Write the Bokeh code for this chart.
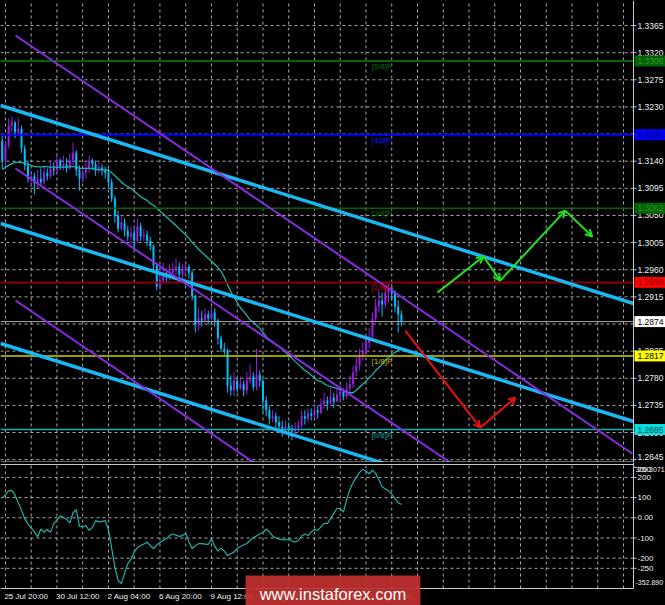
from bokeh.plotting import figure
from bokeh.layouts import column
from bokeh.models import (ColumnDataSource, Arrow, OpenHead, Range1d, GlobalInlineStyleSheet)
from bokeh.core.properties import value
from bokeh.embed import file_html
from bokeh.resources import INLINE

# ---------------- data (GBPUSD H4) ----------------
first_open = 1.3174
close_px = [
    1.3141, 1.3166, 1.3199, 1.3204, 1.3188, 1.3194, 1.3161, 1.3133, 1.3111, 1.3115,
    1.3103, 1.3111, 1.3105, 1.3121, 1.3115, 1.3128, 1.3125, 1.3141, 1.3131, 1.3135,
    1.3128, 1.3141, 1.3154, 1.3125, 1.3111, 1.3121, 1.3128, 1.3141, 1.3135, 1.3125,
    1.3130, 1.3125, 1.3121, 1.3105, 1.3078, 1.3050, 1.3028, 1.3038, 1.3025, 1.3015,
    1.3020, 1.3008, 1.3032, 1.3015, 1.3018, 1.3008, 1.2999, 1.2967, 1.2932, 1.2942,
    1.2955, 1.2947, 1.2955, 1.2962, 1.2965, 1.2952, 1.2959, 1.2965, 1.2955, 1.2916,
    1.2868, 1.2879, 1.2876, 1.2886, 1.2879, 1.2889, 1.2876, 1.2846, 1.2829, 1.2826,
    1.2768, 1.2760, 1.2776, 1.2763, 1.2770, 1.2760, 1.2776, 1.2783, 1.2766, 1.2786,
    1.2776, 1.2743, 1.2727, 1.2713, 1.2717, 1.2707, 1.2700, 1.2693, 1.2700, 1.2697,
    1.2692, 1.2697, 1.2702, 1.2717, 1.2713, 1.2722, 1.2718, 1.2727, 1.2723, 1.2737,
    1.2743, 1.2738, 1.2748, 1.2741, 1.2753, 1.2758, 1.2750, 1.2763, 1.2770, 1.2790,
    1.2801, 1.2816, 1.2826, 1.2839, 1.2849, 1.2879, 1.2899, 1.2909, 1.2902, 1.2922,
    1.2929, 1.2921, 1.2899, 1.2886, 1.2874]
high_px = [
    1.3183, 1.3174, 1.3211, 1.3214, 1.3207, 1.3211, 1.3199, 1.3166, 1.3141, 1.3125,
    1.3121, 1.3125, 1.3128, 1.3133, 1.3128, 1.3141, 1.3138, 1.3154, 1.3145, 1.3149,
    1.3145, 1.3153, 1.3171, 1.3158, 1.3133, 1.3128, 1.3138, 1.3149, 1.3145, 1.3141,
    1.3138, 1.3135, 1.3131, 1.3128, 1.3111, 1.3083, 1.3058, 1.3050, 1.3045, 1.3033,
    1.3032, 1.3028, 1.3045, 1.3038, 1.3028, 1.3025, 1.3015, 1.3002, 1.2972, 1.2965,
    1.2972, 1.2962, 1.2969, 1.2972, 1.2979, 1.2972, 1.2969, 1.2975, 1.2969, 1.2959,
    1.2919, 1.2896, 1.2892, 1.2896, 1.2892, 1.2899, 1.2896, 1.2879, 1.2851, 1.2839,
    1.2829, 1.2785, 1.2790, 1.2780, 1.2783, 1.2776, 1.2790, 1.2803, 1.2790, 1.2829,
    1.2793, 1.2780, 1.2750, 1.2735, 1.2727, 1.2723, 1.2717, 1.2710, 1.2710, 1.2707,
    1.2703, 1.2707, 1.2710, 1.2727, 1.2727, 1.2730, 1.2730, 1.2737, 1.2735, 1.2746,
    1.2756, 1.2750, 1.2763, 1.2756, 1.2763, 1.2770, 1.2763, 1.2773, 1.2785, 1.2800,
    1.2816, 1.2829, 1.2839, 1.2851, 1.2863, 1.2889, 1.2912, 1.2926, 1.2922, 1.2932,
    1.2937, 1.2937, 1.2926, 1.2909, 1.2892]
low_px = [
    1.3128, 1.3133, 1.3161, 1.3188, 1.3178, 1.3181, 1.3154, 1.3125, 1.3105, 1.3098,
    1.3085, 1.3095, 1.3100, 1.3101, 1.3108, 1.3111, 1.3116, 1.3121, 1.3125, 1.3125,
    1.3121, 1.3125, 1.3133, 1.3115, 1.3091, 1.3105, 1.3111, 1.3121, 1.3125, 1.3116,
    1.3120, 1.3116, 1.3111, 1.3095, 1.3072, 1.3038, 1.3022, 1.3025, 1.3015, 1.3008,
    1.3002, 1.2992, 1.3005, 1.3008, 1.3008, 1.2999, 1.2992, 1.2959, 1.2926, 1.2926,
    1.2939, 1.2937, 1.2942, 1.2949, 1.2952, 1.2939, 1.2945, 1.2955, 1.2945, 1.2909,
    1.2856, 1.2859, 1.2866, 1.2873, 1.2869, 1.2876, 1.2866, 1.2836, 1.2823, 1.2819,
    1.2756, 1.2751, 1.2750, 1.2756, 1.2760, 1.2750, 1.2753, 1.2770, 1.2760, 1.2760,
    1.2766, 1.2723, 1.2717, 1.2703, 1.2707, 1.2697, 1.2690, 1.2683, 1.2690, 1.2683,
    1.2677, 1.2687, 1.2690, 1.2697, 1.2703, 1.2707, 1.2710, 1.2713, 1.2713, 1.2720,
    1.2730, 1.2727, 1.2737, 1.2730, 1.2740, 1.2743, 1.2743, 1.2746, 1.2753, 1.2763,
    1.2783, 1.2793, 1.2810, 1.2819, 1.2829, 1.2843, 1.2873, 1.2889, 1.2882, 1.2896,
    1.2906, 1.2909, 1.2889, 1.2856, 1.2866]
ma_px = [
    1.3126, 1.3130, 1.3133, 1.3136, 1.3138, 1.3138, 1.3138, 1.3136, 1.3135, 1.3133,
    1.3131, 1.3131, 1.3130, 1.3131, 1.3131, 1.3130, 1.3130, 1.3130, 1.3130, 1.3130,
    1.3130, 1.3131, 1.3131, 1.3130, 1.3128, 1.3128, 1.3128, 1.3128, 1.3128, 1.3126,
    1.3126, 1.3126, 1.3125, 1.3125, 1.3121, 1.3116, 1.3111, 1.3106, 1.3101, 1.3098,
    1.3095, 1.3090, 1.3086, 1.3081, 1.3078, 1.3075, 1.3070, 1.3067, 1.3062, 1.3057,
    1.3053, 1.3048, 1.3043, 1.3038, 1.3033, 1.3028, 1.3023, 1.3018, 1.3012, 1.3005,
    1.3000, 1.2994, 1.2989, 1.2984, 1.2979, 1.2974, 1.2969, 1.2964, 1.2957, 1.2947,
    1.2935, 1.2924, 1.2914, 1.2906, 1.2897, 1.2891, 1.2884, 1.2877, 1.2873, 1.2868,
    1.2863, 1.2856, 1.2849, 1.2844, 1.2841, 1.2836, 1.2833, 1.2828, 1.2823, 1.2818,
    1.2813, 1.2808, 1.2803, 1.2798, 1.2793, 1.2790, 1.2785, 1.2781, 1.2776, 1.2775,
    1.2771, 1.2768, 1.2766, 1.2765, 1.2763, 1.2761, 1.2760, 1.2758, 1.2756, 1.2756,
    1.2760, 1.2765, 1.2770, 1.2775, 1.2781, 1.2786, 1.2793, 1.2798, 1.2803, 1.2810,
    1.2814, 1.2819, 1.2823, 1.2826, 1.2829]
cci_vals = [
    98, 115, 133, 136, 112, 75, 38, -5, -30, -50,
    -70, -95, -55, -70, -58, -72, -30, -10, 10, 2,
    -8, -25, 25, 40, -42, -44, -38, -62, -48, -14,
    -20, -18, -14, -60, -150, -245, -310, -325, -275, -228,
    -205, -170, -148, -137, -130, -121, -138, -152, -135, -122,
    -112, -104, -88, -80, -86, -92, -88, -78, -118, -152,
    -138, -128, -128, -130, -132, -105, -140, -165, -150, -165,
    -187, -178, -170, -152, -142, -135, -127, -112, -98, -90,
    -80, -74, -55, -70, -90, -100, -106, -108, -110, -104,
    -116, -120, -112, -90, -80, -88, -70, -58, -62, -45,
    -28, -28, -5, 22, 46, 46, 28, 90, 140, 175,
    200, 225, 240, 232, 218, 235, 220, 190, 155, 142,
    135, 118, 95, 76, 66]

murrey_levels = [1.3306, 1.3184, 1.3062, 1.2939, 1.2817, 1.2695]
murrey_names = ["[5/8]P", "[4/8]P", "[3/8]P", "[2/8]P", "[1/8]P", "[0/8]P"]
current_price = 1.2874
price_ticks = [1.3365, 1.3320, 1.3275, 1.3230, 1.3185, 1.3140, 1.3095, 1.3050, 1.3005,
               1.2960, 1.2915, 1.2870, 1.2825, 1.2780, 1.2735, 1.2690, 1.2645]
cci_ticks = [250, 200, 100, 0, -100, -200, -250]
cci_tick_labels = ["250", "200", "100", "0.00", "-100", "-200", "-250"]
cci_grid = [200, 100, 0, -100, -200, -250]
cci_max, cci_min = 300.3071, -352.890
cci_extreme_pos = [239, -319]          # where the terminal prints its max / min captions
date_tick_bars = [1, 17, 33, 49, 65, 81, 97, 113]
date_labels = ["25 Jul 20:00", "30 Jul 12:00", "2 Aug 04:00", "6 Aug 20:00",
               "9 Aug 12:00", "14 Aug 04:00", "16 Aug 20:00", "21 Aug 12:00"]
grid_bars = list(range(1, 197, 8))

# trend lines: (bar, price) anchors read at their ends
blue_channels = [([-0.53, 196.1], [1.32324, 1.29040]),
                 ([-0.53, 196.1], [1.30367, 1.27083]),
                 ([-0.53, 196.1], [1.28377, 1.25093])]
purple_lines = [([4.13, 195.7], [1.33485, 1.26553]),
                ([4.13, 150.0], [1.31279, 1.26013]),
                ([4.13, 90.0], [1.29090, 1.25973])]
green_path_x = [135.2, 149.5, 154.7, 174.9, 183.3]
green_path_y = [1.2922, 1.2982, 1.2942, 1.3058, 1.3015]
red_path_x = [125.2, 148.5, 159.4]
red_path_y = [1.2859, 1.2698, 1.2748]

# ---------------- geometry & styling ----------------
FONT = value("Liberation Sans")
BG = "#000000"
GRID = "#a8a8a8"
FRAME = "#c8c8c8"
BULL = "#9a1ee8"
BEAR = "#00bfff"
TXT = "#eeeeee"
level_line_colors = ["#006400", "#0000ff", "#006400", "#8b0000", "#d2d200", "#00b4b4"]
level_line_widths = [2, 2, 1.5, 2, 1.5, 1.5]
level_text_colors = ["#0a6e0a", "#1414ff", "#0a6e0a", "#d00000", "#c8b400", "#00a8a8"]

W, H_MAIN, H_SUB, FRAME_W, SUB_FRAME_H = 665, 462, 143, 633, 126
X0, X1 = -0.53, 196.1                    # chart area (bars) left / right border
SX = FRAME_W / (X1 - X0)                 # px per bar
X_END = X0 + W / SX
Y0, Y1 = 1.26403, 1.34065
SY = H_MAIN / (Y1 - Y0)
C0, C1 = -350.0, 273.8
SC = SUB_FRAME_H / (C1 - C0)
C_BOT = C0 - (H_SUB - SUB_FRAME_H) / SC


def dx(px):
    return px / SX


n = len(close_px)
bars = list(range(n))
opens = [first_open] + close_px[:-1]
colors = [BULL if c > o else BEAR for o, c in zip(opens, close_px)]
src = ColumnDataSource(dict(
    x=bars, h=high_px, l=low_px,
    top=[max(o, c) for o, c in zip(opens, close_px)],
    bot=[min(o, c) for o, c in zip(opens, close_px)],
    color=colors))


def base_fig(height, yr):
    f = figure(width=W, height=height, x_range=Range1d(X0, X_END), y_range=yr,
               x_axis_location=None, y_axis_location=None, toolbar_location=None,
               output_backend="svg", background_fill_color=BG, border_fill_color=BG,
               min_border=0, min_border_left=0, min_border_right=0, min_border_top=0,
               min_border_bottom=0, outline_line_color=None)
    f.grid.visible = False
    return f


# ---------------- main price panel ----------------
p = base_fig(H_MAIN, Range1d(Y0, Y1))

# dashed grid
p.segment(x0=[X0] * len(price_ticks), y0=price_ticks, x1=[X1] * len(price_ticks),
          y1=price_ticks, line_color=GRID, line_width=1, line_dash="3 3")
p.segment(x0=grid_bars, y0=[Y0] * len(grid_bars), x1=grid_bars, y1=[Y1] * len(grid_bars),
          line_color=GRID, line_width=1, line_dash="3 3")

# candles
p.segment(x0="x", y0="h", x1="x", y1="l", line_color="color", line_width=1, source=src)
p.vbar(x="x", width=0.62, top="top", bottom="bot", fill_color="color",
       line_color=None, source=src)

# moving average
p.line(bars, ma_px, line_color="#20b2aa", line_width=1.3)

# murrey levels and current price
p.segment(x0=[X0] * len(murrey_levels), y0=murrey_levels, x1=[X1] * len(murrey_levels),
          y1=murrey_levels, line_color=level_line_colors, line_width=level_line_widths)
p.segment(x0=[X0], y0=[current_price], x1=[X1], y1=[current_price],
          line_color="#a8a8a8", line_width=1)

# channels
for xs, ys in blue_channels:
    p.line(xs, ys, line_color="#1ab8f2", line_width=3.5)
for xs, ys in purple_lines:
    p.line(xs, ys, line_color="#8a2be2", line_width=2)

# murrey captions
msrc = ColumnDataSource(dict(x=[114.7] * len(murrey_levels), y=murrey_levels,
                             t=murrey_names, c=level_text_colors))
p.text(x="x", y="y", text="t", text_color="c", source=msrc, text_font=FONT,
       text_font_size="8px", text_baseline="top", y_offset=1)

# arrows
for k in range(len(green_path_x) - 1):
    p.add_layout(Arrow(end=OpenHead(size=7, line_color="#22e022", line_width=2),
                       x_start=green_path_x[k], y_start=green_path_y[k],
                       x_end=green_path_x[k + 1], y_end=green_path_y[k + 1],
                       line_color="#22e022", line_width=2))
for k in range(len(red_path_x) - 1):
    p.add_layout(Arrow(end=OpenHead(size=7, line_color="#e81010", line_width=2),
                       x_start=red_path_x[k], y_start=red_path_y[k],
                       x_end=red_path_x[k + 1], y_end=red_path_y[k + 1],
                       line_color="#e81010", line_width=2))

# right price scale (lowest caption lifted so it stays on the panel)
p.segment(x0=[X1] * len(price_ticks), y0=price_ticks, x1=[X1 + dx(3)] * len(price_ticks),
          y1=price_ticks, line_color=FRAME, line_width=1)
label_lift = [0] * (len(price_ticks) - 1) + [-3]
p.text(x=[X1 + dx(4)] * len(price_ticks), y=price_ticks,
       text=[f"{t:.4f}" for t in price_ticks], y_offset=label_lift,
       text_color=TXT, text_font=FONT,
       text_font_size="8.5px", text_baseline="middle", text_align="left")

# price boxes on the scale
box_levels = murrey_levels[:4] + [current_price] + murrey_levels[4:]
box_bg = ["#006400", "#0000ff", "#006400", "#ff0000", "#ffffff", "#ffff00", "#00e0e0"]
box_fg = ["#3a8a3a", "#00005a", "#3a8a3a", "#700000", "#000000", "#000000", "#003c3c"]
half = 5.5 / SY
p.quad(left=[X1 + dx(1)] * len(box_levels), right=[X_END] * len(box_levels),
       top=[v + half for v in box_levels], bottom=[v - half for v in box_levels],
       fill_color=box_bg, line_color=None)
p.text(x=[X1 + dx(4)] * len(box_levels), y=box_levels,
       text=[f"{v:.4f}" for v in box_levels], text_color=box_fg, text_font=FONT,
       text_font_size="8.5px", text_baseline="middle", text_align="left")

# frame borders
p.segment(x0=[X1], y0=[Y0], x1=[X1], y1=[Y1], line_color=FRAME, line_width=1)
p.segment(x0=[X0], y0=[Y0 + 0.5 / SY], x1=[X1], y1=[Y0 + 0.5 / SY],
          line_color=FRAME, line_width=1)

# ---------------- CCI panel with the time scale ----------------
p2 = base_fig(H_SUB, Range1d(C_BOT, C1))
p2.segment(x0=[X0] * len(cci_grid), y0=cci_grid, x1=[X1] * len(cci_grid), y1=cci_grid,
           line_color=GRID, line_width=1, line_dash="3 3")
p2.segment(x0=grid_bars, y0=[C0] * len(grid_bars), x1=grid_bars, y1=[C1] * len(grid_bars),
           line_color=GRID, line_width=1, line_dash="3 3")
p2.line(bars, cci_vals, line_color="#20b2aa", line_width=1.2)

p2.segment(x0=[X1] * len(cci_ticks), y0=cci_ticks, x1=[X1 + dx(3)] * len(cci_ticks),
           y1=cci_ticks, line_color=FRAME, line_width=1)
cci_shift = [2] + [0] * (len(cci_ticks) - 1)
p2.text(x=[X1 + dx(4)] * len(cci_ticks), y=cci_ticks, text=cci_tick_labels,
        y_offset=cci_shift, text_color=TXT, text_font=FONT, text_font_size="8px",
        text_baseline="middle", text_align="left")
p2.text(x=[X1 + dx(2)] * 2, y=cci_extreme_pos,
        text=[f"{cci_max:.4f}", f"{cci_min:.3f}"], text_color=TXT, text_font=FONT,
        text_font_size="7px", text_baseline="middle", text_align="left")

# borders
p2.segment(x0=[X1], y0=[C0], x1=[X1], y1=[C1], line_color=FRAME, line_width=1)
p2.segment(x0=[X0, X0], y0=[C1 - 2 / SC, C0], x1=[X1, X1], y1=[C1 - 2 / SC, C0],
           line_color=FRAME, line_width=1)

# time scale
p2.text(x=[b - dx(1) for b in date_tick_bars], y=[C0 - 8 / SC] * len(date_tick_bars),
        text=date_labels, text_color=TXT, text_font=FONT, text_font_size="8px",
        text_baseline="middle", text_align="left")

# watermark
wm_left, wm_right = 75.6, 129.9
p2.quad(left=[wm_left], right=[wm_right], top=[C0 + 13 / SC], bottom=[C_BOT - 10],
        fill_color="#c0302e", fill_alpha=0.93, line_color=None)
p2.text(x=[(wm_left + wm_right) / 2], y=[C0 - 5.5 / SC], text=["www.instaforex.com"],
        text_color="#ffffff", text_font=FONT, text_font_size="16.5px",
        text_baseline="middle", text_align="center")

layout = column(p, p2, spacing=0,
                stylesheets=[GlobalInlineStyleSheet(css="html, body { background-color: #000000; }")])

open("out.html", "w").write(file_html(layout, INLINE))
